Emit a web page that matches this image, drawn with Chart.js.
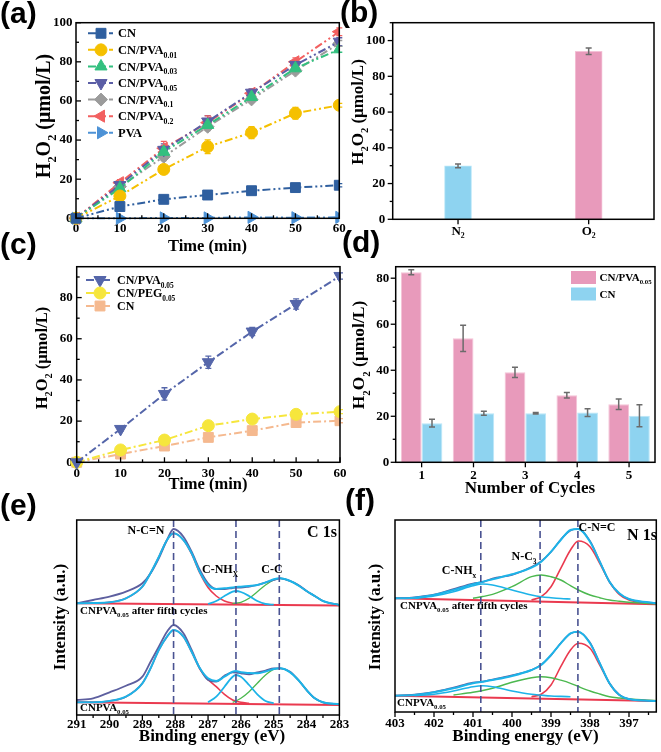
<!DOCTYPE html>
<html><head><meta charset="utf-8">
<script src="https://cdn.jsdelivr.net/npm/chart.js@4.4.0/dist/chart.umd.min.js"></script>
<style>
html,body{margin:0;padding:0;background:#fff;}
#wrap{position:relative;width:661px;height:752px;overflow:hidden;background:#fff;}
canvas{position:absolute;left:0;top:0;}
.pl{position:absolute;font:bold 30px "Liberation Sans",Arial,sans-serif;line-height:30px;color:#000;}
</style></head><body>
<div id="wrap">
<canvas id="cA" width="661" height="752"></canvas>
<canvas id="cB" width="661" height="752"></canvas>
<canvas id="cC" width="661" height="752"></canvas>
<canvas id="cD" width="661" height="752"></canvas>
<canvas id="cE" width="661" height="752"></canvas>
<canvas id="cF" width="661" height="752"></canvas>
<div class="pl" style="left:0px;top:-2px">(a)</div>
<div class="pl" style="left:340px;top:-3px">(b)</div>
<div class="pl" style="left:0px;top:229px">(c)</div>
<div class="pl" style="left:342px;top:227px">(d)</div>
<div class="pl" style="left:0px;top:490px">(e)</div>
<div class="pl" style="left:345px;top:485px">(f)</div>
</div>
<script>
// ---------------- DATA ----------------
const timeMin = [0,10,20,30,40,50,60];
// (a)
const a_CN      = [0,6,9.7,11.9,14.1,15.7,16.9];
const a_PVA001  = [0,11.4,25,36.6,43.8,53.7,57.8];
const a_PVA003  = [0,15.3,34,47.7,62,76.7,86.4];
const a_PVA005  = [0,17,35,49.5,64.2,78.4,90.3];
const a_PVA01   = [0,16.2,31.5,46.8,60.8,75.5,89.4];
const a_PVA02   = [0,18.2,35.8,48.9,63.9,80,95.4];
const a_PVA     = [0,0,0.2,0.2,0.5,0.3,0.5];
const a_CN_err     = [0,0.5,0.8,0.8,0.8,0.8,0.8];
const a_PVA001_err = [0,1,1.5,3.5,3,3,1];
const a_PVA003_err = [0,1,2,2,1.5,1.5,1.5];
const a_PVA005_err = [0,1.5,3,3,2,2,2];
const a_PVA01_err  = [0,1,2,2,1.5,1.5,1.5];
const a_PVA02_err  = [0,1.5,3.5,3.5,2,2,2];
// (b)
const b_gases = ['N\u2082','O\u2082'];
const b_vals  = [29.9,94.0];
const b_err   = [1,1.8];
// (c)
const c_PVA005 = [0,16.2,33.2,48.6,63.5,76.9,90.5];
const c_PEG005 = [0,6,10.8,17.8,21,23.3,24.6];
const c_CN     = [0,4,7.9,12.1,15.4,19.3,20.2];
const c_PVA005_err = [0,1,3,3,2,2.5,1.5];
const c_PEG005_err = [0,1,1.5,1.5,1,1,1];
const c_CN_err     = [0,0.8,0.8,1,1,1,1];
// (d)
const d_cycles = ['1','2','3','4','5'];
const d_PVA005 = [82.6,53.9,39.1,29.1,25.2];
const d_CN     = [17,21.3,21.3,21.6,20.2];
const d_PVA005_err = [1.1,5.7,2.2,1.2,2.3];
const d_CN_err     = [1.7,0.9,0.3,1.7,4.8];
// (e) C 1s, binding energy grid and intensities (a.u.)
const _ = null;
const eGrid = [291,290.5,290,289.5,289,288.75,288.5,288.25,288.05,287.75,287.5,287.25,287,286.75,286.5,286.25,286.15,286,285.75,285.5,285.25,285,284.8,284.5,284.25,284,283.75,283.5,283];
const eTopRaw = [111.7,115,118.3,123.3,131.7,141.7,156.7,175,186,178.3,163.3,145,131.7,126,126,127,127.3,127.3,128.5,130,132.5,135,136.7,134,130,124,119,114,110];
const eTopFit = [111.7,112,112.7,116.7,128.3,142,158,175,181.7,175,161.7,143,130,126,126.7,127.5,128,128.3,129,130,132.5,135.7,136.7,134,129.5,124,119,114,110];
const eTopNCN = [111.7,112,112.7,116.7,128.3,142,158,175,181.7,175,161,142,127.5,119,114,111.7,111.2,110.8,110.5,_,_,_,_,_,_,_,_,_,_];
const eTopCNH = [_,_,_,_,_,_,_,_,_,_,_,_,111,114,119,123.3,124,123,119,114,111,110.3,_,_,_,_,_,_,_];
const eTopCC  = [_,_,_,_,_,_,_,_,_,_,_,_,_,_,_,111.5,112,112.7,116.7,123.3,130,135,136.7,134,129.5,124,119,114,110];
const eTopBase= [111.7,_,_,_,_,_,_,_,_,_,_,_,_,_,_,_,_,_,_,_,_,_,_,_,_,_,_,_,109.5];
const eBotRaw = [15,16.7,22.7,29.3,38.3,53.3,68.3,83.3,90,81.7,65,46.7,35,33.3,39.3,42.7,42.5,41.7,40.7,42.7,44.5,46.7,46.7,43.3,35,25,16.7,12.7,10.7];
const eBotFit = [12.7,12.7,14,18.3,31.7,46.7,65,78.3,85,78.3,63.3,46.7,36.7,34,38.3,43.3,44,42.7,42,41.7,43.5,46,46.7,42.7,35,25,16.7,12.7,10.7];
const eBotNCN = [12.7,12.7,14,18.3,31.7,46.7,65,78.3,85,78.3,63,46,35.5,28.3,20.7,15,13.8,12.7,11.7,_,_,_,_,_,_,_,_,_,_];
const eBotCNH = [_,_,_,_,_,_,_,_,_,_,_,_,12.7,18.3,28.3,38.3,40,38.3,30,20.7,14,11.7,_,_,_,_,_,_,_];
const eBotCC  = [_,_,_,_,_,_,_,_,_,_,_,_,_,_,_,12.7,14,16.7,23.3,31.7,40,45.7,46.7,42.7,35,25,16.7,12.7,10.7];
const eBotBase= [12.7,_,_,_,_,_,_,_,_,_,_,_,_,_,_,_,_,_,_,_,_,_,_,_,_,_,_,_,10];
const ePeaks = [288.05,286.15,284.83];
// (f) N 1s
const fGrid = [403,402.5,402,401.5,401,400.75,400.5,400,399.5,399.25,399,398.75,398.5,398.3,398,397.75,397.5,397.25,397,396.5,396.3];
const fTopRaw = [113.5,114.8,117.5,123,128.5,130,133.5,137,145,151,160,172.5,181.5,183,171,150.8,130,118.5,112.8,109.5,108.7];
const fTopFit = [113.7,114.3,117,122,127.7,130.3,132.7,137.7,144.3,150.3,160.3,172,182,183,170.3,150.3,130.3,118.7,113,109.7,108.7];
const fTopCNH = [_,113.7,116,120.3,126.3,128,127,122,117,115.3,114.3,113.5,113,_,_,_,_,_,_,_,_];
const fTopNC3 = [_,_,_,_,113.7,115.5,117.7,125.3,135.3,137,135.3,132,126.3,122,117,114.3,112,110.8,109.7,108.5,108.2];
const fTopCNC = [_,_,_,_,_,_,_,_,112,115.3,125.3,143.7,162,171,165.3,148.7,130.3,117.7,112,109.3,108.7];
const fTopBase= [113.7,_,_,_,_,_,_,_,_,_,_,_,_,_,_,_,_,_,_,_,107.7];
const fBotRaw = [16.5,17.5,20,24.5,29.5,30.5,32.5,36.8,42,47.5,56.5,69,78.5,80,69.5,49,28.5,17.3,12.8,11.3,11];
const fBotFit = [16.3,17,19.7,23.7,28.7,30.3,32,36,42,47,57,68.7,78.7,80.3,68.7,48.7,28.7,17,13,11.3,11];
const fBotCNH = [_,16.3,17.7,21,25.3,26.3,25.3,21,17.7,16.8,16,15.6,15.3,_,_,_,_,_,_,_,_];
const fBotNC3 = [_,_,_,17,19.7,21.5,23.7,29.7,34.3,35.3,34.3,31.8,28.7,25.5,21,18,15.3,14,13,11.7,11.3];
const fBotCNC = [_,_,_,_,_,_,_,_,15.3,17.7,27,45.3,62,68.7,63.7,47,28.7,17,13,11.3,11];
const fBotBase= [16.3,_,_,_,_,_,_,_,_,_,_,_,_,_,_,_,_,_,_,_,11];
const fPeaks = [400.8,399.28,398.31];

// ---------------- HELPERS ----------------
const SER = '"Liberation Serif","Times New Roman",serif';
Chart.defaults.font.family = SER;
Chart.defaults.font.weight = 'bold';
Chart.defaults.color = '#000';
Chart.defaults.animation = false;
Chart.defaults.responsive = false;
Chart.defaults.devicePixelRatio = 1;
Chart.defaults.events = [];
Chart.defaults.plugins.legend.display = false;
Chart.defaults.plugins.tooltip.enabled = false;

function parseRich(s){const out=[];const re=/_\{([^}]*)\}/g;let last=0,m;
  while((m=re.exec(s))){if(m.index>last)out.push({t:s.slice(last,m.index),sub:0});out.push({t:m[1],sub:1});last=re.lastIndex;}
  if(last<s.length)out.push({t:s.slice(last),sub:0});return out;}
function drawRich(ctx,s,x,y,size,align,rot,color){
  const segs=parseRich(s);const fn='bold '+size+'px '+SER, fs='bold '+(size*0.62).toFixed(1)+'px '+SER;
  ctx.save();ctx.translate(x,y);if(rot)ctx.rotate(rot);ctx.fillStyle=color||'#000';ctx.textBaseline='alphabetic';ctx.textAlign='left';
  let w=0;for(const g of segs){ctx.font=g.sub?fs:fn;g.w=ctx.measureText(g.t).width;w+=g.w;}
  let cx=align==='center'?-w/2:align==='right'?-w:0;
  for(const g of segs){ctx.font=g.sub?fs:fn;ctx.fillText(g.t,cx,g.sub?size*0.3:0);cx+=g.w;}
  ctx.restore();}
const isMult=(v,k)=>Math.abs(v/k-Math.round(v/k))<1e-6;

function linScale(axis,min,max,step,every,size,pad,fixed,extra){
  return Object.assign({type:'linear',min,max,
    grid:{display:false,drawTicks:false},border:{display:false},
    ticks:{stepSize:step,maxTicksLimit:200,includeBounds:false,autoSkip:false,maxRotation:0,padding:pad,font:{size,weight:'bold'},color:'#000',
      callback:(v)=>isMult(v,every)?String(Math.round(v*100)/100):''},
    afterFit:(s)=>{if(axis==='y')s.width=fixed;else s.height=fixed;}},extra||{});
}
function catScale(axis,size,pad,fixed){
  return {type:'category',offset:true,grid:{display:false,drawTicks:false,offset:false},border:{display:false},
    ticks:{padding:pad,font:{size,weight:'bold'},color:'#000',maxRotation:0,autoSkip:false},
    afterFit:(s)=>{if(axis==='y')s.width=fixed;else s.height=fixed;}};
}
function pad(L,T,R,B,yw,xh){return {left:L-yw,top:T,right:661-R,bottom:752-B-xh};}

const DECO={};
function drawErrors(chart){
  const ctx=chart.ctx, ys=chart.scales.y;
  chart.data.datasets.forEach((ds,i)=>{if(!ds.errors)return;const meta=chart.getDatasetMeta(i);
    ctx.save();ctx.strokeStyle=ds.errorColor||ds.borderColor;ctx.lineWidth=ds.errorWidth||1.5;
    meta.data.forEach((el,j)=>{const e=ds.errors[j];if(!e)return;const raw=ds.data[j];const v=(raw&&typeof raw==='object')?raw.y:raw;
      const x=el.x,y1=ys.getPixelForValue(v+e),y2=ys.getPixelForValue(v-e),cw=ds.capWidth||3;
      ctx.beginPath();ctx.moveTo(x,y1);ctx.lineTo(x,y2);ctx.moveTo(x-cw,y1);ctx.lineTo(x+cw,y1);ctx.moveTo(x-cw,y2);ctx.lineTo(x+cw,y2);ctx.stroke();});
    ctx.restore();});
}
function drawTicks(chart,axis,dir){
  const s=chart.scales[axis],ctx=chart.ctx,a=chart.chartArea;ctx.save();ctx.strokeStyle='#000';ctx.lineWidth=1.3;
  s.ticks.forEach((t,i)=>{const p=s.getPixelForTick(i);const major=t.label!==''&&t.label!=null;const L=major?5:3;const sg=dir==='in'?-1:1;
    ctx.beginPath();if(axis==='x'){ctx.moveTo(p,a.bottom);ctx.lineTo(p,a.bottom+sg*L);}else{ctx.moveTo(a.left,p);ctx.lineTo(a.left-sg*L,p);}ctx.stroke();});
  ctx.restore();
}
Chart.register({id:'deco',
  beforeDatasetsDraw(chart){const d=DECO[chart.canvas.id];if(d&&!d.errAfter)drawErrors(chart);},
  afterDatasetsDraw(chart){const d=DECO[chart.canvas.id];if(!d)return;const ctx=chart.ctx,a=chart.chartArea;
    if(d.errAfter)drawErrors(chart);
    if(d.vlines){ctx.save();ctx.strokeStyle='#4a5392';ctx.lineWidth=1.6;ctx.setLineDash([7,4]);
      d.vlines.forEach(v=>{const x=chart.scales.x.getPixelForValue(v);ctx.beginPath();ctx.moveTo(x,a.top);ctx.lineTo(x,a.bottom);ctx.stroke();});ctx.restore();}
  },
  afterDraw(chart){const d=DECO[chart.canvas.id];if(!d)return;const ctx=chart.ctx,a=chart.chartArea;
    ctx.save();ctx.strokeStyle='#000';ctx.lineWidth=1.5;ctx.strokeRect(a.left,a.top,a.right-a.left,a.bottom-a.top);ctx.restore();
    if(d.xt)drawTicks(chart,'x',d.xt);
    if(d.yt)drawTicks(chart,'y',d.yt);
    (d.texts||[]).forEach(t=>drawRich(ctx,t.s,t.x,t.y,t.size,t.align||'center',t.rot||0));
    if(d.legend){const lg=d.legend;
      lg.items.forEach((it,k)=>{const y=lg.y0+k*lg.dy;
        if(lg.type==='line'){const ds=chart.data.datasets[it.ds];
          ctx.save();ctx.strokeStyle=ds.borderColor;ctx.lineWidth=ds.borderWidth;ctx.setLineDash(ds.borderDash||[]);
          ctx.beginPath();ctx.moveTo(lg.x1,y);ctx.lineTo(lg.x2,y);ctx.stroke();ctx.setLineDash([]);
          ctx.fillStyle=ds.backgroundColor;ctx.strokeStyle=ds.borderColor;ctx.lineWidth=1;
          Chart.helpers.drawPoint(ctx,{pointStyle:ds.pointStyle,rotation:ds.pointRotation||0,radius:ds.pointRadius,borderWidth:1},lg.mx,y);
          ctx.restore();
        } else {ctx.save();ctx.fillStyle=it.color;ctx.fillRect(lg.x1,y-lg.bh/2,lg.x2-lg.x1,lg.bh);ctx.restore();}
        drawRich(ctx,it.text,lg.tx,y+lg.size*0.33,lg.size,'left');});
    }
  }
});

function lineSet(label,vals,errs,st){
  return {label,data:timeMin.map((t,i)=>({x:t,y:vals[i]})),errors:errs,borderColor:st.color,backgroundColor:st.color,
    borderWidth:2,borderDash:st.dash,pointStyle:st.style,pointRotation:st.rot||0,pointRadius:st.r,pointBorderWidth:1,
    capWidth:3,errorWidth:1.3,tension:0,clip:{left:8,top:8,right:0,bottom:8}};
}
function xpsSet(grid,vals,color,w){
  return {data:grid.map((e,i)=>vals[i]==null?null:{x:e,y:vals[i]}).filter(Boolean),borderColor:color,borderWidth:w,
    pointRadius:0,cubicInterpolationMode:'monotone',fill:false};
}

// ---------------- (a) ----------------
const DDOT=[8,3,2,3,2,3];
const aStyles=[
  {color:'#2f5f9f',style:'rect',r:7,dash:DDOT},
  {color:'#f5c000',style:'circle',r:6,dash:DDOT},
  {color:'#33c07f',style:'triangle',r:7,dash:DDOT},
  {color:'#5b5ea6',style:'triangle',rot:180,r:7,dash:DDOT},
  {color:'#9b9b9b',style:'rectRot',r:6.5,dash:DDOT},
  {color:'#f26060',style:'triangle',rot:270,r:7,dash:DDOT},
  {color:'#4d92d6',style:'triangle',rot:90,r:7,dash:DDOT}];
const aLabels=['CN','CN/PVA_{0.01}','CN/PVA_{0.03}','CN/PVA_{0.05}','CN/PVA_{0.1}','CN/PVA_{0.2}','PVA'];
const aVals=[a_CN,a_PVA001,a_PVA003,a_PVA005,a_PVA01,a_PVA02,a_PVA];
const aErrs=[a_CN_err,a_PVA001_err,a_PVA003_err,a_PVA005_err,a_PVA01_err,a_PVA02_err,null];
DECO.cA={xt:'in',yt:'in',
  texts:[{s:'H_{2}O_{2} (\u03bcmol/L)',x:50,y:116,size:20,rot:-Math.PI/2},{s:'Time (min)',x:207.5,y:250.5,size:16.5}],
  legend:{type:'line',x1:88,x2:113,mx:101,tx:118,y0:33.3,dy:16.57,size:12.5,items:aLabels.map((t,i)=>({ds:i,text:t}))}};
new Chart(document.getElementById('cA'),{type:'line',
  data:{datasets:aVals.map((v,i)=>lineSet(aLabels[i],v,aErrs[i],aStyles[i]))},
  options:{layout:{padding:pad(76,22.7,339.3,218.3,40,30)},
    scales:{x:linScale('x',0,60,5,10,13,3,30),y:linScale('y',0,100,10,20,13,3.5,40)}}});

// ---------------- (b) ----------------
DECO.cB={errAfter:true,yt:'out',xt:'out',
  texts:[{s:'H_{2}O_{2} (\u03bcmol/L)',x:363.3,y:112,size:17,rot:-Math.PI/2}]};
new Chart(document.getElementById('cB'),{type:'bar',
  data:{labels:b_gases,datasets:[{data:b_vals,errors:b_err,backgroundColor:['#8ed3f0','#e89abb'],borderColor:['#b9e6f8','#f4c3d7'],borderWidth:1,
    barThickness:27,errorColor:'#6b6b6b',errorWidth:1.5,capWidth:3}]},
  options:{layout:{padding:pad(392.7,22.7,654,219.3,40,30)},
    scales:{x:catScale('x',13,5,30),y:linScale('y',0,110,10,20,13,7.5,40)}}});

// ---------------- (c) ----------------
const DDASH=[8,3,2,3];
const cStyles=[
  {color:'#5566aa',style:'triangle',rot:180,r:7,dash:DDASH},
  {color:'#f6e63c',style:'circle',r:6,dash:DDASH},
  {color:'#f5b98f',style:'rect',r:7,dash:DDASH}];
const cLabels=['CN/PVA_{0.05}','CN/PEG_{0.05}','CN'];
const cVals=[c_PVA005,c_PEG005,c_CN];
const cErrs=[c_PVA005_err,c_PEG005_err,c_CN_err];
DECO.cC={xt:'in',yt:'in',
  texts:[{s:'H_{2}O_{2} (\u03bcmol/L)',x:46.7,y:358,size:16.5,rot:-Math.PI/2},{s:'Time (min)',x:208,y:488.5,size:16.5}],
  legend:{type:'line',x1:86,x2:113,mx:100,tx:117,y0:280,dy:13,size:12,items:cLabels.map((t,i)=>({ds:i,text:t}))}};
new Chart(document.getElementById('cC'),{type:'line',
  data:{datasets:cVals.map((v,i)=>lineSet(cLabels[i],v,cErrs[i],cStyles[i]))},
  options:{layout:{padding:pad(76.7,266.7,340,462.3,40,30)},
    scales:{x:linScale('x',0,60,5,10,13,4,30),y:linScale('y',0,95,10,20,13,4,40)}}});

// ---------------- (d) ----------------
DECO.cD={errAfter:true,yt:'out',xt:'out',
  texts:[{s:'H_{2}O_{2} (\u03bcmol/L)',x:364.3,y:355,size:17.5,rot:-Math.PI/2},{s:'Number of Cycles',x:530,y:492.5,size:17}],
  legend:{type:'box',x1:571,x2:596,bh:13,tx:599.5,y0:277.5,dy:16.5,size:11,
    items:[{color:'#e89abb',text:'CN/PVA_{0.05}'},{color:'#8ed3f0',text:'CN'}]}};
new Chart(document.getElementById('cD'),{type:'bar',
  data:{labels:d_cycles,datasets:[
    {data:d_PVA005,errors:d_PVA005_err,backgroundColor:'#e89abb',borderColor:'#f4c3d7',borderWidth:1,errorColor:'#6b6b6b',errorWidth:1.5,capWidth:3,categoryPercentage:0.8,barPercentage:1},
    {data:d_CN,errors:d_CN_err,backgroundColor:'#8ed3f0',borderColor:'#b9e6f8',borderWidth:1,errorColor:'#6b6b6b',errorWidth:1.5,capWidth:3,categoryPercentage:0.8,barPercentage:1}]},
  options:{layout:{padding:pad(395.7,266.7,655,462.3,40,30)},
    scales:{x:catScale('x',13,6,30),y:linScale('y',0,85,10,20,13,6.5,40)}}});

// ---------------- (e) ----------------
const C_RAW='#5d5f9f',C_FIT='#1db3e8',C_RED='#ea3a4f',C_GRN='#4cb84f';
DECO.cE={xt:'out',vlines:ePeaks,
  texts:[{s:'N-C=N',x:146,y:533.5,size:12},{s:'C-NH_{X}',x:220,y:573,size:12},{s:'C-C',x:272,y:573,size:12},
    {s:'C 1s',x:322,y:536.5,size:16},{s:'CNPVA_{0.05} after fifth cycles',x:80,y:614,size:11,align:'left'},
    {s:'CNPVA_{0.05}',x:80,y:711,size:11,align:'left'},
    {s:'Intensity (a.u.)',x:65,y:617,size:17,rot:-Math.PI/2},{s:'Binding energy (eV)',x:212,y:741,size:17}]};
new Chart(document.getElementById('cE'),{type:'line',
  data:{datasets:[
    xpsSet(eGrid,eTopFit,C_FIT,2),xpsSet(eGrid,eTopRaw,C_RAW,1.8),xpsSet(eGrid,eTopCNH,C_FIT,1.8),xpsSet(eGrid,eTopCC,C_GRN,1.3),xpsSet(eGrid,eTopNCN,C_RED,1.6),xpsSet(eGrid,eTopBase,C_RED,2),
    xpsSet(eGrid,eBotFit,C_FIT,2),xpsSet(eGrid,eBotRaw,C_RAW,1.8),xpsSet(eGrid,eBotCNH,C_FIT,1.8),xpsSet(eGrid,eBotCC,C_GRN,1.3),xpsSet(eGrid,eBotNCN,C_RED,1.6),xpsSet(eGrid,eBotBase,C_RED,2)]},
  options:{layout:{padding:pad(76.7,520,339.4,715,0,30)},
    scales:{x:linScale('x',283,291,0.5,1,13,2,30,{reverse:true}),y:{type:'linear',min:0,max:195,display:false}}}});

// ---------------- (f) ----------------
DECO.cF={xt:'out',vlines:fPeaks,
  texts:[{s:'C-NH_{x}',x:459,y:574,size:12},{s:'N-C_{3}',x:524,y:560,size:12},{s:'C-N=C',x:597,y:531,size:12},
    {s:'N 1s',x:642,y:539.5,size:16},{s:'CNPVA_{0.05} after fifth cycles',x:400,y:608.5,size:11,align:'left'},
    {s:'CNPVA_{0.05}',x:397,y:706,size:11,align:'left'},
    {s:'Intensity (a.u.)',x:380,y:617,size:17,rot:-Math.PI/2},{s:'Binding energy (eV)',x:525.5,y:741,size:17}]};
new Chart(document.getElementById('cF'),{type:'line',
  data:{datasets:[
    xpsSet(fGrid,fTopFit,C_FIT,2),xpsSet(fGrid,fTopRaw,C_RAW,1.5),xpsSet(fGrid,fTopCNH,C_FIT,1.6),xpsSet(fGrid,fTopNC3,C_GRN,1.4),xpsSet(fGrid,fTopCNC,C_RED,1.6),xpsSet(fGrid,fTopBase,C_RED,2),
    xpsSet(fGrid,fBotFit,C_FIT,2),xpsSet(fGrid,fBotRaw,C_RAW,1.5),xpsSet(fGrid,fBotCNH,C_FIT,1.6),xpsSet(fGrid,fBotNC3,C_GRN,1.4),xpsSet(fGrid,fBotCNC,C_RED,1.6),xpsSet(fGrid,fBotBase,C_RED,2)]},
  options:{layout:{padding:pad(395,520,656.3,712,0,30)},
    scales:{x:linScale('x',396.3,403,0.5,1,13,4,30,{reverse:true}),y:{type:'linear',min:0,max:192,display:false}}}});
</script>
</body></html>
